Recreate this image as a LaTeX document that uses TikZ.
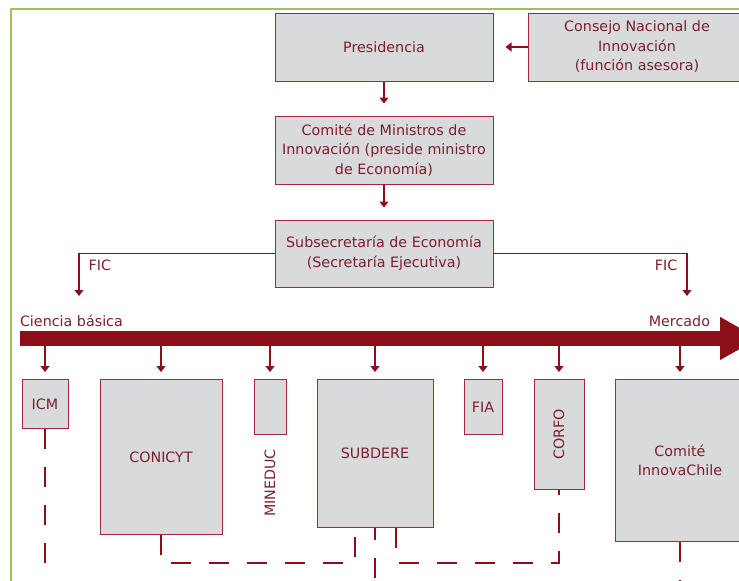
\documentclass[tikz,border=0pt]{standalone}
\usepackage{fontspec}
\setmainfont{DejaVu Sans}
\usetikzlibrary{arrows.meta,positioning}
\definecolor{vino}{RGB}{139,14,26}
\definecolor{borde}{RGB}{165,40,55}
\definecolor{tinta}{RGB}{125,30,45}
\definecolor{gris}{RGB}{217,218,220}
\definecolor{marco}{RGB}{155,195,90}
\tikzset{
  caja/.style   = {shape=rectangle, draw=borde, fill=gris, line width=1pt,
                   align=center, text=tinta, inner sep=2pt},
  cajon/.style  = {caja, minimum width=218pt, minimum height=68pt},
  rotulo/.style = {text=tinta, inner sep=0pt},
  banda/.style  = {fill=vino, minimum width=702pt, minimum height=15pt, inner sep=0pt},
  flecha/.style = {draw=vino, line width=1.2pt, -{Triangle[width=9pt,length=6pt]}},
  enlace/.style = {draw=vino, line width=1.2pt, dash pattern=on 20pt off 18pt}
}

\begin{document}
\begin{tikzpicture}
  [
    x                 = 1pt,
    y                 = -1pt,
    every node/.style = {font=\fontsize{14.3}{19.5}\selectfont}
  ]
 \clip (0,0) rectangle (739,581);
 \draw [marco, line width=2.5pt] (11,581) -- (11,9) -- (739,9);

 \node [cajon] (presidencia) at (384,47) {Presidencia};
 \node [cajon, right=34pt of presidencia] (consejo) {Consejo Nacional de\\Innovación\\(función asesora)};
 \node [cajon, below=34pt of presidencia] (comite) {Comité de Ministros de\\Innovación (preside ministro\\de Economía)};
 \node [cajon, below=35pt of comite, minimum height=67pt] (subse) {Subsecretaría de Economía\\(Secretaría Ejecutiva)};

 \draw [flecha, shorten >=12pt] (consejo) -- (presidencia);
 \draw [flecha, shorten >=12pt] (presidencia) -- (comite);
 \draw [flecha, shorten >=12pt] (comite) -- (subse);

 \coordinate (ficizq) at (79,296);
 \coordinate (ficder) at (687,296);
 \draw [flecha] (subse.west) -| node [rotulo, anchor=north west, xshift=9pt, yshift=-6pt] (fic1) {FIC} (ficizq);
 \draw [flecha] (subse.east) -| node [rotulo, anchor=north east, xshift=-9pt, yshift=-6pt] (fic2) {FIC} (ficder);

 \node [banda] (eje) at (371,338.5) {};
 \fill [vino] (eje.east) ++(-2,-21.5) -- ++(38,21.5) -- ++(-38,21.5) -- cycle;
 \node [rotulo, anchor=base west] (ciencia) at ([yshift=4pt]eje.north west) {Ciencia básica};
 \node [rotulo, anchor=base east] (mercado) at ([xshift=-12pt,yshift=4pt]eje.north east) {Mercado};

 \node [caja, anchor=north, minimum width=46pt,  minimum height=49pt]  (icm)        at (45,379)  {ICM};
 \node [caja, anchor=north, minimum width=122pt, minimum height=155pt] (conicyt)    at (161,379) {CONICYT};
 \node [caja, anchor=north, minimum width=32pt,  minimum height=55pt]  (mineducbox) at (270,379) {};
 \node [rotulo, rotate=90] (mineduc) at (270,483) {MINEDUC};
 \node [caja, anchor=north, minimum width=116pt, minimum height=148pt] (subdere)    at (375,379) {SUBDERE};
 \node [caja, anchor=north, minimum width=38pt,  minimum height=55pt]  (fia)        at (483,379) {FIA};
 \node [caja, anchor=north, minimum width=50pt,  minimum height=110pt] (corfo)      at (559,379) {\rotatebox{90}{CORFO}};
 \node [caja, anchor=north, minimum width=130pt, minimum height=162pt] (innova)     at (680,379) {Comité\\InnovaChile};

 \draw [flecha, shorten >=7pt] (eje.south -| icm.north) -- (icm.north);
 \draw [flecha, shorten >=7pt] (eje.south -| conicyt.north) -- (conicyt.north);
 \draw [flecha, shorten >=7pt] (eje.south -| mineducbox.north) -- (mineducbox.north);
 \draw [flecha, shorten >=7pt] (eje.south -| subdere.north) -- (subdere.north);
 \draw [flecha, shorten >=7pt] (eje.south -| fia.north) -- (fia.north);
 \draw [flecha, shorten >=7pt] (eje.south -| corfo.north) -- (corfo.north);
 \draw [flecha, shorten >=7pt] (eje.south -| innova.north) -- (innova.north);

 \coordinate (pie) at (0,581);
 \draw [enlace] (icm.south) -- (icm.south |- pie);
 \draw [enlace] (conicyt.south) -- ++(0,28) -| ([xshift=-20pt]subdere.south);
 \draw [enlace, dash phase=8pt] (subdere.south) -- (subdere.south |- pie);
 \draw [enlace] ([xshift=21pt]subdere.south) -- ++(0,35) -| (corfo.south);
 \draw [enlace] (innova.south) -- (innova.south |- pie);
\end{tikzpicture}
\end{document}
